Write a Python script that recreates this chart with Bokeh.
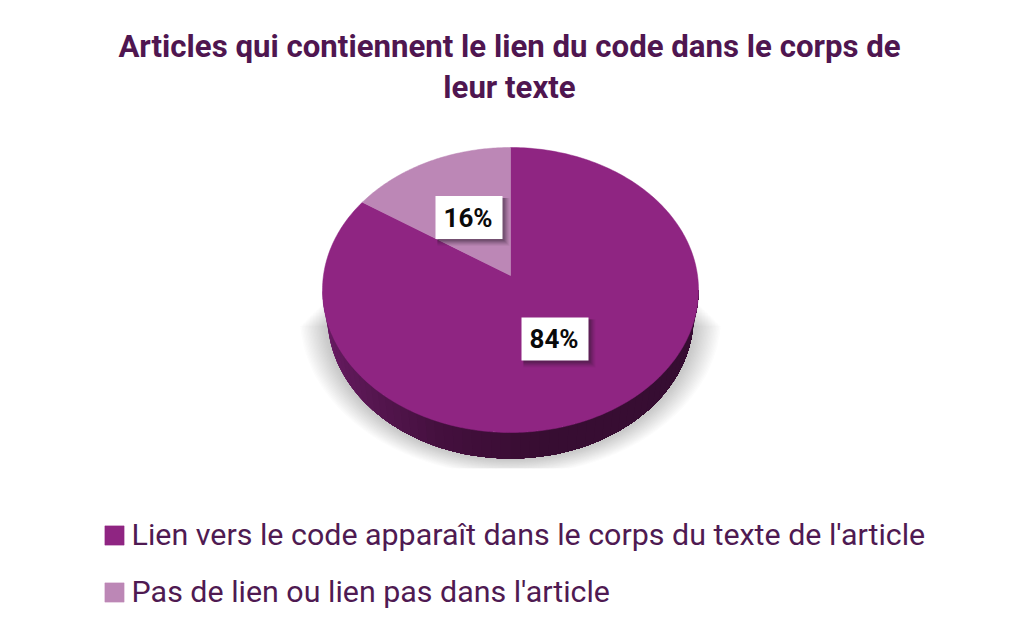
import numpy as np
from bokeh.embed import file_html
from bokeh.resources import INLINE
from bokeh.plotting import figure
from bokeh.models import Legend, LegendItem, Range1d, Title
from bokeh.core.properties import value

TITLE_LINES = ["Articles qui contiennent le lien du code dans le corps de", "leur texte"]
CATEGORIES = ["Lien vers le code apparaît dans le corps du texte de l'article",
              "Pas de lien ou lien pas dans l'article"]
SHARES = [84, 16]
COLORS = ["#8F2582", "#BC87B6"]
LABEL_POS = [(554.5, 338.5), (468.5, 217)]

F_TOP, F_LEFT = 105, 10
p = figure(width=1008, height=621, output_backend="svg", toolbar_location=None,
           x_range=Range1d(F_LEFT, 1008), y_range=Range1d(621, F_TOP),
           min_border=0, min_border_left=F_LEFT, min_border_right=0, min_border_top=F_TOP, min_border_bottom=0,
           outline_line_color=None, background_fill_color="white", border_fill_color="white", title=None)
p.axis.visible = False
p.grid.visible = False
for line, standoff in zip(TITLE_LINES[::-1], [0, 4]):
    p.add_layout(Title(text=line, align="center", text_font="Roboto", text_font_size="31.2px",
                       text_font_style="bold", text_color="#4F1650", standoff=standoff), "above")

cx, cy, rx, ry = 510, 289.5, 188, 142.5
ax, ay = 510, 275
bcx, bcy, brx, bry = 510, 316, 183, 142

# soft ground shadow
t = np.linspace(0, 2*np.pi, 181)
for k in range(20):
    e = k * 1.45
    xs = bcx + (brx + e) * np.sin(t)
    ys = bcy - (bry + e*0.6) * np.cos(t)
    ys = np.clip(ys, 298 + e*1.0, 468)
    p.patch(xs, ys, fill_color="#555555", fill_alpha=0.02, line_color=None)

# side wall, painted from the left edge to the right
side = np.linspace(np.pi/2, 3*np.pi/2, 241)
stops = [(0.0, (110, 28, 104)), (0.2, (90, 24, 84)), (0.38, (68, 16, 62)), (0.55, (56, 13, 50)), (1.0, (54, 13, 50))]
for i in range(60):
    f = i/59
    c = [int(np.interp(f, [s[0] for s in stops], [s[1][j] for s in stops])) for j in range(3)]
    a = side[::-1][int(i/60*240):]
    xt, yt = cx + rx*np.sin(a), cy - ry*np.cos(a)
    xb, yb = bcx + brx*np.sin(a), bcy - bry*np.cos(a)
    p.patch(np.r_[xt, xb[::-1]], np.r_[yt, yb[::-1]], fill_color="#%02x%02x%02x" % tuple(c), line_color=None)

# top face: angle foreshortened a little by the perspective tilt
TILT = 0.903
t_split = 2*np.pi - 2*np.pi*SHARES[1]/sum(SHARES)*TILT
arcs = [np.linspace(0, t_split, 300), np.linspace(t_split, 2*np.pi, 80)]
slices = []
for a, col in zip(arcs, COLORS):
    xs = np.r_[ax, cx + rx*np.sin(a)]
    ys = np.r_[ay, cy - ry*np.cos(a)]
    slices.append(p.patch(xs, ys, fill_color=col, line_color=col, line_width=0.5))

# value labels
bw, bh = 67, 43
for s, (lx, ly) in zip(SHARES, LABEL_POS):
    for o, al in [(7, .05), (6, .07), (5, .09), (4, .11), (3, .14), (2, .16)]:
        p.quad(left=lx-bw/2+2, right=lx+bw/2+o, top=ly-bh/2+2, bottom=ly+bh/2+o,
               fill_color="#2a1a2a", fill_alpha=al, line_color=None)
    p.quad(left=lx-bw/2, right=lx+bw/2, top=ly-bh/2, bottom=ly+bh/2, fill_color="white", line_color=None)
    p.text([lx - 1], [ly], text=[f"{s}%"], text_align="center", text_baseline="middle",
           text_font=value("Roboto"), text_font_style="bold", text_font_size="26px", text_color="#0a0a0a")

legend = Legend(items=[LegendItem(label=value(c), renderers=[r]) for c, r in zip(CATEGORIES, slices)],
                location=(91.6, 12), orientation="vertical", padding=0, margin=0, spacing=22,
                glyph_width=24, glyph_height=24, label_standoff=6, label_height=30,
                label_text_font="Roboto", label_text_font_size="30.4px", label_text_color="#4F1A52",
                border_line_color=None, background_fill_alpha=0)
p.add_layout(legend, "center")

open("out.html", "w").write(file_html(p, INLINE))
